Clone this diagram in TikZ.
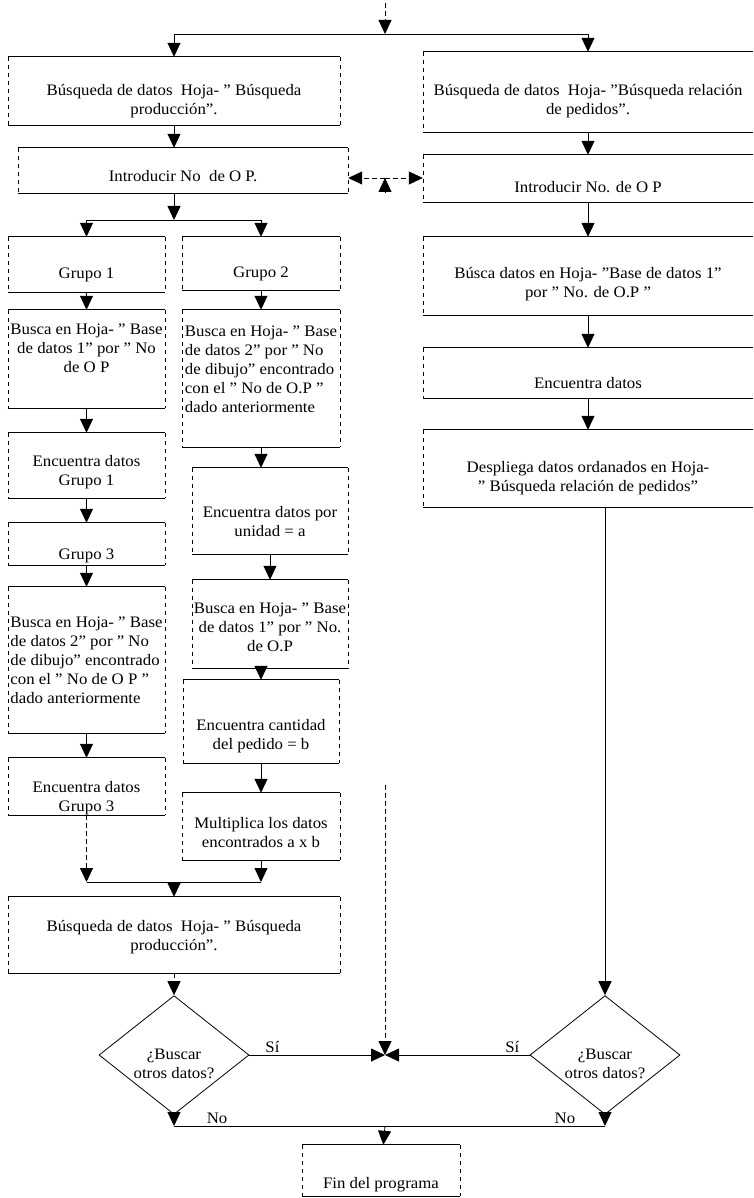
\documentclass[tikz,border=0pt]{standalone}
\usepackage{fontspec}
\setmainfont{Liberation Serif}[FakeStretch=1.05]
\usetikzlibrary{arrows.meta,shapes.geometric}
\newcommand\mytext[3]{\raisebox{-#1}[\height][\depth]{\begin{tabular}{@{}#2@{}}#3\end{tabular}}}
\newcommand\frameall[1]{%
  \draw[hl] (#1.north west) -- (#1.north east) (#1.south west) -- (#1.south east);
  \draw[vl] (#1.north west) -- (#1.south west) (#1.north east) -- (#1.south east);}
\newcommand\frameopen[1]{%
  \draw[hl] (#1.north west) -- (#1.north east) (#1.south west) -- (#1.south east);
  \draw[vl] (#1.north west) -- (#1.south west);}
\begin{document}
\begin{tikzpicture}[x=1pt,y=1pt,
  every node/.style={font=\fontsize{16}{19}\selectfont},
  box/.style={rectangle, inner sep=0pt, draw=none},
  dia/.style={diamond, draw, line width=0.8pt, inner sep=0pt, minimum width=150pt, minimum height=106pt},
  hl/.style={line width=0.9pt},
  vl/.style={line width=0.55pt, dash pattern=on 4pt off 4pt},
  arr/.style={line width=0.8pt, -{Triangle[width=13pt,length=14pt]}},
  dsh/.style={dash pattern=on 5pt off 3pt},
  lbl/.style={inner sep=2pt}]
\useasboundingbox (0,0) rectangle (754,-1198);

% left column
\node[box, minimum width=332pt, minimum height=68pt] (bL1) at (174,-91)
  {\mytext{10pt}{c}{Búsqueda de datos~ Hoja- " Búsqueda\\producción".}};
\node[box, minimum width=330pt, minimum height=45pt] (bL2) at (183,-170.5)
  {\mytext{7pt}{c}{Introducir No~ de O P.}};
\node[box, minimum width=157pt, minimum height=55pt] (g1) at (86.5,-264.5)
  {\mytext{10pt}{c}{Grupo 1}};
\node[box, minimum width=158pt, minimum height=53pt] (g2) at (261,-263.5)
  {\mytext{10pt}{c}{Grupo 2}};
\node[box, minimum width=157pt, minimum height=98pt] (bs1) at (86.5,-359)
  {\mytext{-9pt}{c}{Busca en Hoja- " Base\\de datos 1" por " No\\de O P}};
\node[box, minimum width=158pt, minimum height=137pt] (bs2) at (261,-378.5)
  {\mytext{-8pt}{l}{Busca en Hoja- " Base\\de datos 2" por " No\\de dibujo" encontrado\\con el " No de O.P "\\dado anteriormente}};
\node[box, minimum width=157pt, minimum height=65pt] (ed1) at (86.5,-465.5)
  {\mytext{7pt}{c}{Encuentra datos\\Grupo 1}};
\node[box, minimum width=157pt, minimum height=42pt] (g3) at (86.5,-544)
  {\mytext{12pt}{c}{Grupo 3}};
\node[box, minimum width=157pt, minimum height=146pt] (bs3) at (86.5,-660)
  {\mytext{2pt}{l}{Busca en Hoja- " Base\\de datos 2" por " No\\de dibujo" encontrado\\con el " No de O P "\\dado anteriormente}};
\node[box, minimum width=157pt, minimum height=57pt] (ed3) at (86.5,-786.5)
  {\mytext{12pt}{c}{Encuentra datos\\Grupo 3}};
\node[box, minimum width=156pt, minimum height=86pt] (eu) at (270,-511)
  {\mytext{12pt}{c}{Encuentra datos por\\unidad = a}};
\node[box, minimum width=156pt, minimum height=88pt] (bs4) at (270,-624)
  {\mytext{5pt}{c}{Busca en Hoja- " Base\\de datos 1" por " No.\\de O.P}};
\node[box, minimum width=156pt, minimum height=83pt] (ec) at (261,-721.5)
  {\mytext{15pt}{c}{Encuentra cantidad\\del pedido = b}};
\node[box, minimum width=158pt, minimum height=67pt] (mu) at (261,-826.5)
  {\mytext{8pt}{c}{Multiplica los datos\\encontrados a x b}};
\node[box, minimum width=332pt, minimum height=76pt] (bF) at (174,-935)
  {\mytext{2pt}{c}{Búsqueda de datos~ Hoja- " Búsqueda\\producción".}};

% right column
\node[box, minimum width=330pt, minimum height=80pt] (rB1) at (588,-92)
  {\mytext{9pt}{c}{Búsqueda de datos~ Hoja- "Búsqueda relación\\de pedidos".}};
\node[box, minimum width=330pt, minimum height=47pt] (rB2) at (588,-178.5)
  {\mytext{10pt}{c}{Introducir No. de O P}};
\node[box, minimum width=330pt, minimum height=78pt] (rB3) at (588,-276)
  {\mytext{8pt}{c}{Búsca datos en Hoja- "Base de datos 1"\\por " No. de O.P "}};
\node[box, minimum width=330pt, minimum height=50pt] (rB4) at (588,-373)
  {\mytext{12pt}{c}{Encuentra datos}};
\node[box, minimum width=330pt, minimum height=77pt] (rB5) at (588,-468.5)
  {\mytext{10pt}{c}{Despliega datos ordanados en Hoja-\\" Búsqueda relación de pedidos"}};

% decisions and end
\node[dia] (dL) at (174,-1055) {\mytext{10pt}{c}{¿Buscar\\otros datos?}};
\node[dia] (dR) at (605,-1055) {\mytext{10pt}{c}{¿Buscar\\otros datos?}};
\node[box, minimum width=158pt, minimum height=51pt] (fin) at (381,-1170.5)
  {\mytext{14pt}{c}{Fin del programa}};

\frameall{bL1}\frameall{bL2}\frameall{g1}\frameall{g2}\frameall{bs1}\frameall{bs2}
\frameall{ed1}\frameall{g3}\frameall{bs3}\frameall{ed3}\frameall{eu}\frameall{bs4}
\frameall{ec}\frameall{mu}\frameall{bF}\frameall{fin}
\frameopen{rB1}\frameopen{rB2}\frameopen{rB3}\frameopen{rB4}\frameopen{rB5}

% connectors
\coordinate (tin) at (385,-3);
\coordinate (j0) at (385,-34);
\draw[arr,dsh] (tin) -- (j0);
\draw[arr] (j0) -| (bL1);
\draw[arr] (j0) -| (rB1);
\draw[arr] (bL1) -- (bL1.south |- bL2.north);
\draw[arr] (rB1) -- (rB2);
\draw[arr] (rB2) -- (rB3);
\draw[arr] (rB3) -- (rB4);
\draw[arr] (rB4) -- (rB5);

\coordinate (j1) at (174,-220);
\draw[arr] (bL2.south -| j1) -- (j1);
\draw[arr] (j1) -| (g1);
\draw[arr] (j1) -| (g2);
\draw[arr] (g1) -- (bs1);
\draw[arr] (bs1) -- (ed1);
\draw[arr] (ed1) -- (g3);
\draw[arr] (g3) -- (bs3);
\draw[arr] (bs3) -- (ed3);
\draw[arr] (g2) -- (bs2);
\draw[arr] (bs2.south) -- (bs2.south |- eu.north);
\draw[arr] (eu) -- (bs4);
\draw[arr] (bs4.south -| ec) -- (ec);
\draw[arr] (ec) -- (mu);

\coordinate (j2) at (174,-882);
\draw[arr,dsh] (ed3) -- (ed3.south |- j2);
\draw[arr] (mu) -- (mu.south |- j2);
\draw[line width=0.8pt] (ed3.south |- j2) -- (mu.south |- j2);
\draw[arr] (j2) -- (bF);
\draw[arr,dsh] (bF) -- (dL);

\coordinate (jS) at (385,-1055);
\draw[arr] (dL.east) -- node[lbl, above, pos=0.17] (siL) {Sí} (jS);
\draw[arr] (dR.west) -- node[lbl, above, pos=0.12] (siR) {Sí} (jS);
\coordinate (jV) at (385,-785);
\draw[arr,dsh] (jV) -- (jS);
\coordinate (jT) at (385,-178);
\coordinate (jU) at (385,-193);
\draw[arr] (jU) -- (jT);
\draw[arr,dsh] (jT) -- (jT -| bL2.east);
\draw[arr,dsh] (jT) -- (jT -| rB2.west);

\draw[arr] (rB5.south -| dR) -- (dR);

\coordinate (jN) at (385,-1126);
\draw[arr] (dL) -- (dL.south |- jN);
\draw[arr] (dR) -- (dR.south |- jN);
\draw[line width=0.8pt] (dL.south |- jN) -- node[lbl, above, pos=0.1] (noL) {No}
  node[lbl, above, pos=0.907] (noR) {No} (dR.south |- jN);
\draw[arr] (jN) -- (fin);
\end{tikzpicture}
\end{document}
